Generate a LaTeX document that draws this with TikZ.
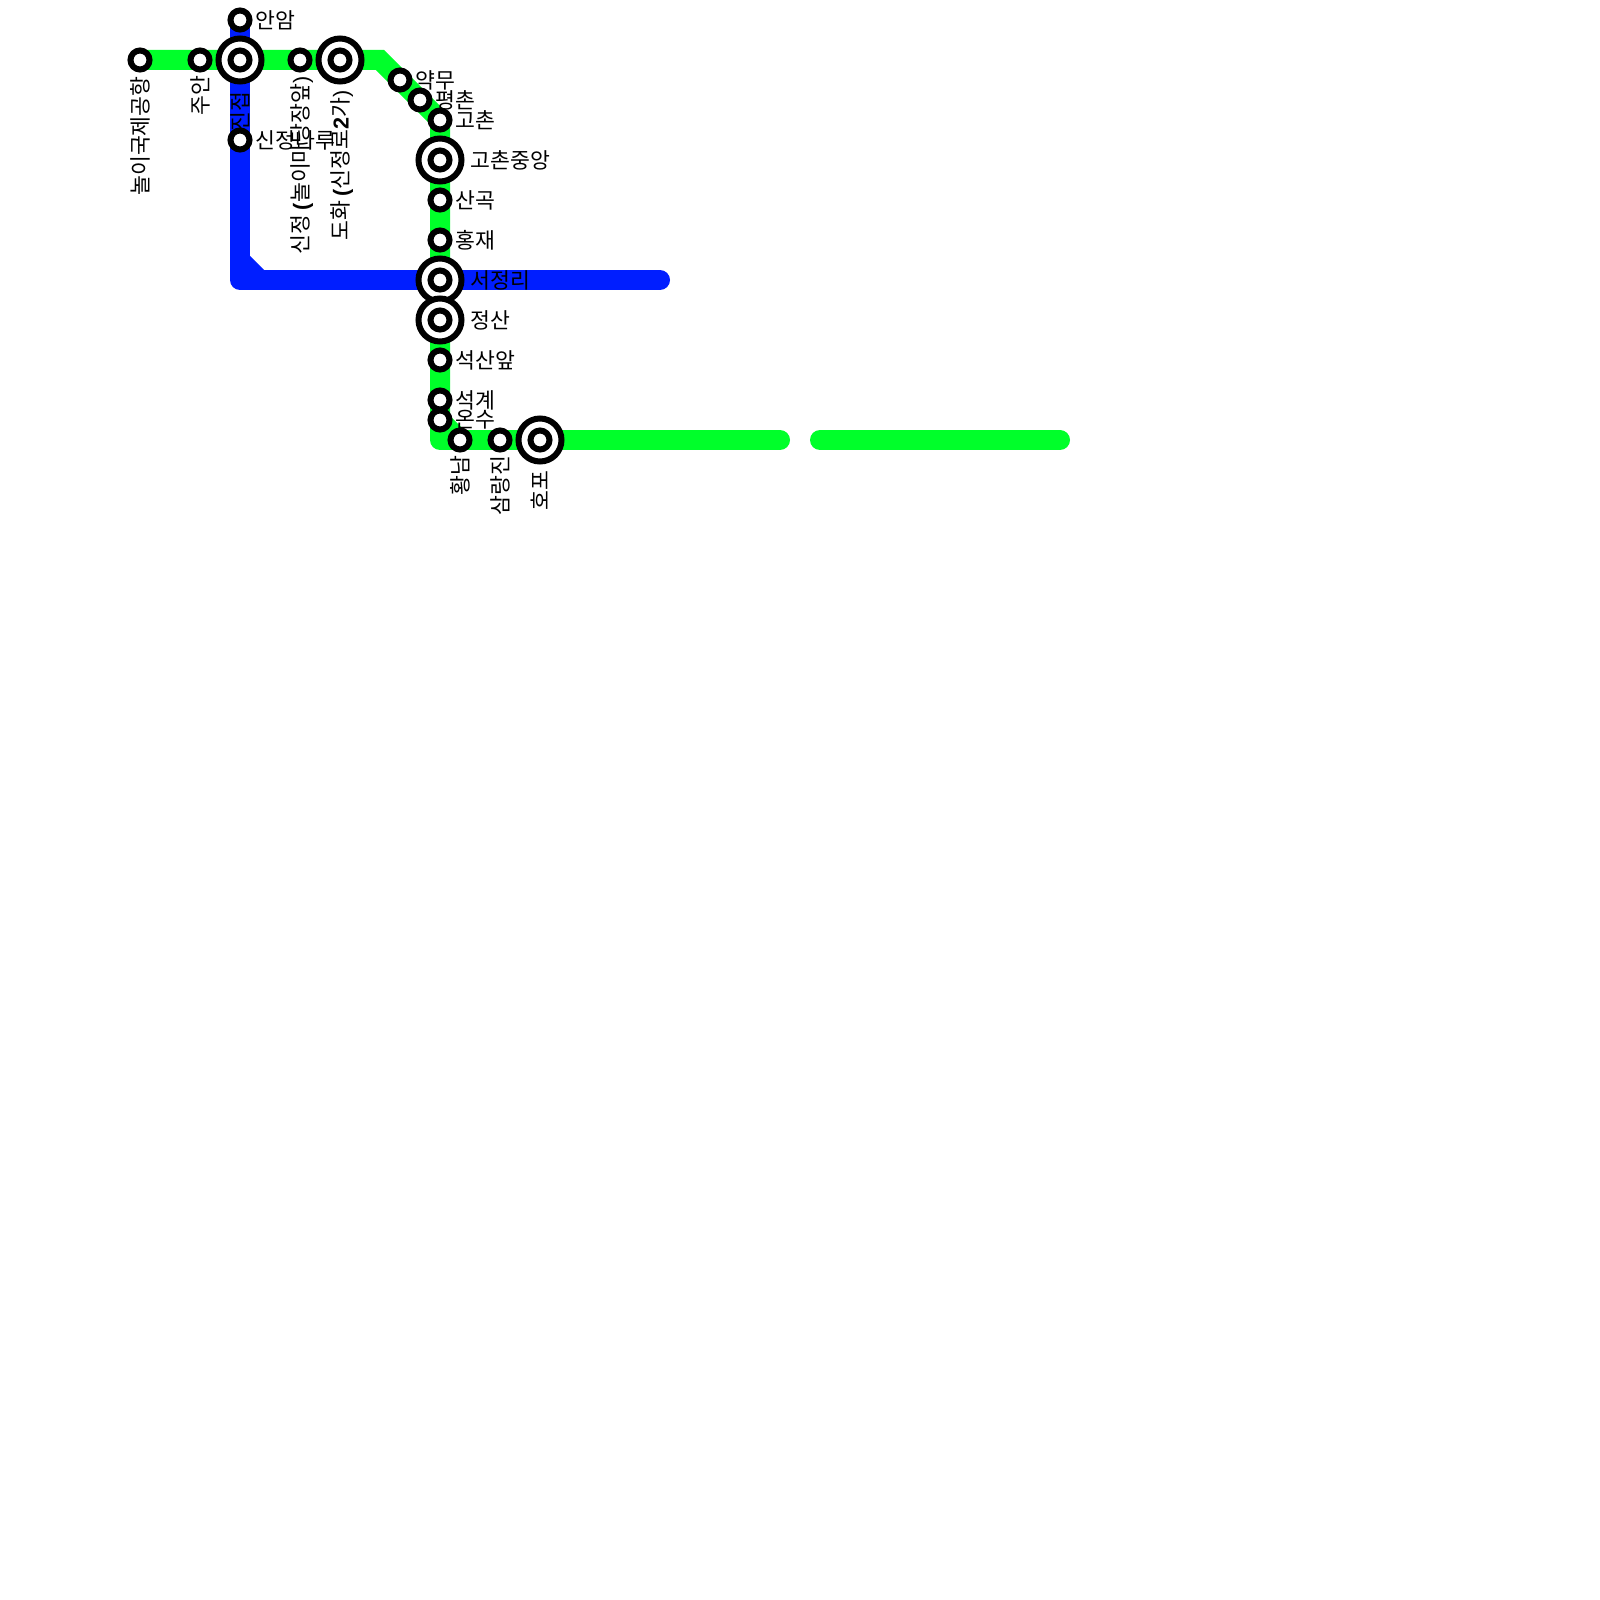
\documentclass[tikz,border=0pt]{standalone}
\usepackage{fontspec}
\setmainfont{Noto Sans CJK KR}
\newfontfamily\latinfont{Liberation Sans}
\usetikzlibrary{backgrounds}
\definecolor{metrogreen}{HTML}{00FF2A}
\definecolor{metroblue}{HTML}{001EFF}
\begin{document}
\begin{tikzpicture}[
    x=0.5pt, y=-0.5pt,
    % Styles
    linegreen/.style={line width=10pt, draw=metrogreen},
    lineblue/.style={line width=10pt, draw=metroblue},
    station/.style={circle, draw=black, fill=white, line width=3pt, minimum size=9.5pt, inner sep=0pt},
    hub/.style={circle, draw=black, fill=white, line width=3pt, minimum size=21.5pt, inner sep=0pt},
    stationlabel/.style={font=\fontsize{10.8pt}{12pt}\selectfont, inner sep=0pt, text=black},
    eastlabel/.style={stationlabel, anchor=west},
    southlabel/.style={stationlabel, rotate=90, anchor=east}
]
\useasboundingbox (0,0) rectangle (1600,1600);

% --- Blue line stations ---
\node[station] (anam) at (240,20) {};
\node[station] (sinjeongnaru) at (240,140) {};

% --- Green line stations ---
\node[station] (noi) at (140,60) {};
\node[station] (juan) at (200,60) {};
\node[hub] (jinjeop) at (240,60) {};
\node[station] (jinjeopin) at (240,60) {};
\node[station] (sinjeong) at (300,60) {};
\node[hub] (dohwa) at (340,60) {};
\node[station] (dohwain) at (340,60) {};
\node[station] (yakmu) at (400,80) {};
\node[station] (pyeongchon) at (420,100) {};
\node[station] (gochon) at (440,120) {};
\node[hub] (gochonjungang) at (440,160) {};
\node[station] (gochonjungangin) at (440,160) {};
\node[station] (sangok) at (440,200) {};
\node[station] (hongjae) at (440,240) {};
\node[hub] (seojeongri) at (440,280) {};
\node[station] (seojeongriin) at (440,280) {};
\node[hub] (jeongsan) at (440,320) {};
\node[station] (jeongsanin) at (440,320) {};
\node[station] (seoksan) at (440,360) {};
\node[station] (seokgye) at (440,400) {};
\node[station] (onsu) at (440,420) {};
\node[station] (hwangnam) at (460,440) {};
\node[station] (samnangjin) at (500,440) {};
\node[hub] (hopo) at (540,440) {};
\node[station] (hopoin) at (540,440) {};

% --- Free line ends and bends ---
\coordinate (greenbend1) at (380,60);
\coordinate (greencorner) at (440,440);
\coordinate (greenend1) at (780,440);
\coordinate (greenstart2) at (820,440);
\coordinate (greenend2) at (1060,440);
\coordinate (bluebend) at (240,260);
\coordinate (bluediag) at (260,280);
\coordinate (bluecorner) at (240,280);
\coordinate (blueend) at (660,280);

% --- Lines ---
\begin{scope}[on background layer]
\draw[lineblue, line join=round, line cap=round] (anam.center) -- (bluecorner) -- (blueend);
\draw[lineblue, line join=miter] (bluebend) -- (bluediag);
\draw[linegreen, line join=miter, line cap=round] (noi.center) -- (greenbend1) -- (gochon.center) -- (onsu.center) -- (hwangnam.center);
\draw[linegreen, line join=round, line cap=round] (onsu.center) -- (greencorner) -- (greenend1);
\draw[linegreen, line cap=round] (greenstart2) -- (greenend2);
\end{scope}

% --- Labels ---
\node[eastlabel] (anamlabel) at (255,20) {안암};
\node[eastlabel] (sinjeongnarulabel) at (255,140) {신정나루};
\node[eastlabel] (yakmulabel) at (415,80) {약무};
\node[eastlabel] (pyeongchonlabel) at (435,100) {평촌};
\node[eastlabel] (gochonlabel) at (455,120) {고촌};
\node[eastlabel] (gochonjunganglabel) at (470.5,160) {고촌중앙};
\node[eastlabel] (sangoklabel) at (455,200) {산곡};
\node[eastlabel] (hongjaelabel) at (455,240) {홍재};
\node[eastlabel] (seojeongrilabel) at (470.5,280) {서정리};
\node[eastlabel] (jeongsanlabel) at (470.5,320) {정산};
\node[eastlabel] (seoksanlabel) at (455,360) {석산앞};
\node[eastlabel] (seokgyelabel) at (455,400) {석계};
\node[eastlabel] (onsulabel) at (455,420) {온수};

\node[southlabel] (noilabel) at (140,76) {놀이국제공항};
\node[southlabel] (juanlabel) at (200,75) {주안};
\node[southlabel] (jinjeoplabel) at (240,91) {진접};
\node[southlabel] (sinjeonglabel) at (302,76) {신정 {\latinfont\bfseries (}놀이마당장앞{\latinfont )}};
\node[southlabel] (dohwalabel) at (342,90) {도화 {\latinfont\bfseries (}신정로{\latinfont\bfseries 2}가{\latinfont )}};
\node[southlabel] (hwangnamlabel) at (460,455) {황남};
\node[southlabel] (samnangjinlabel) at (500,455) {삼랑진};
\node[southlabel] (hopolabel) at (540,470) {호포};

\end{tikzpicture}
\end{document}
